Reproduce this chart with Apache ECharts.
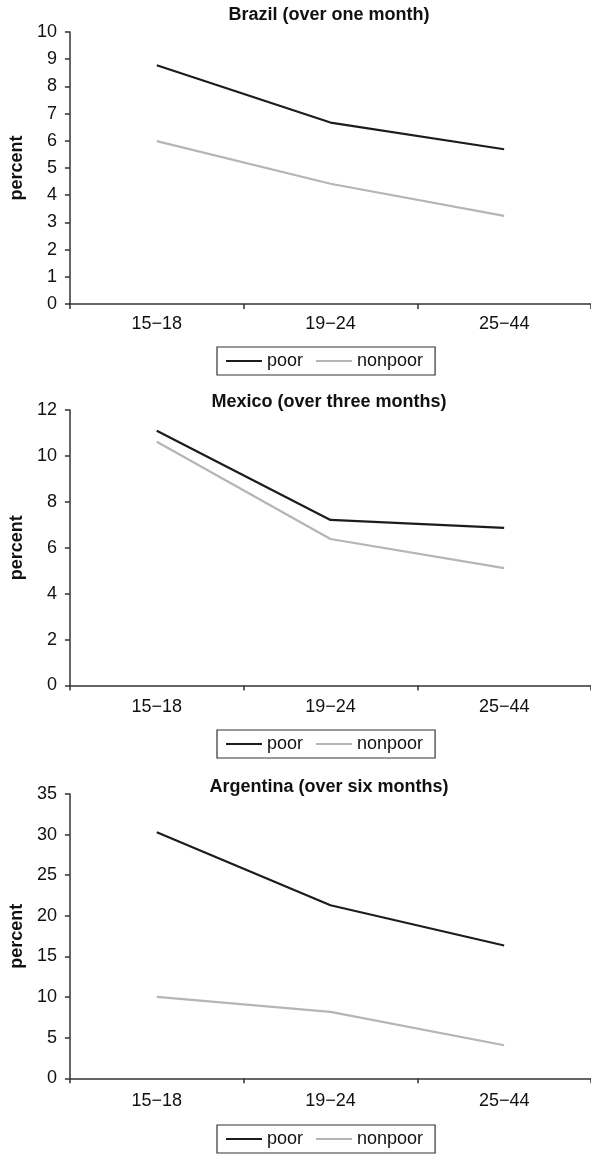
<!DOCTYPE html>
<html>
<head>
<meta charset="utf-8">
<script src="https://cdn.jsdelivr.net/npm/echarts@6/dist/echarts.min.js"></script>
<style>
html,body{margin:0;padding:0;background:#fff;}
#chart{width:591px;height:1154px;}
</style>
</head>
<body>
<div id="chart"></div>
<script>
const categories = ['15\u221218', '19\u221224', '25\u221244'];
const titles = ['Brazil (over one month)', 'Mexico (over three months)', 'Argentina (over six months)'];
const seriesNames = ['poor', 'nonpoor'];
const brazilPoor = [8.78, 6.67, 5.69];
const brazilNonpoor = [5.99, 4.42, 3.24];
const mexicoPoor = [11.1, 7.21, 6.87];
const mexicoNonpoor = [10.62, 6.38, 5.11];
const argentinaPoor = [30.3, 21.3, 16.35];
const argentinaNonpoor = [10.02, 8.18, 4.07];
const yMax = [10, 12, 35];
const yInterval = [1, 2, 5];

const FONT = '"Liberation Sans", Arial, Helvetica, sans-serif';
const DARK = '#1c1c1c';
const LIGHT = '#b5b5b5';
const AXIS = '#333333';

const panels = [
  {title: titles[0], poor: brazilPoor, nonpoor: brazilNonpoor, top: 32, height: 272, titleTop: 6, legendTop: 347, xMargin: 11},
  {title: titles[1], poor: mexicoPoor, nonpoor: mexicoNonpoor, top: 410, height: 275.5, titleTop: 393, legendTop: 730, xMargin: 13},
  {title: titles[2], poor: argentinaPoor, nonpoor: argentinaNonpoor, top: 794, height: 284.3, titleTop: 778.5, legendTop: 1125, xMargin: 14}
];

const option = {
  backgroundColor: '#ffffff',
  animation: false,
  textStyle: {fontFamily: FONT},
  title: [], grid: [], xAxis: [], yAxis: [], series: [], legend: []
};

panels.forEach((p, i) => {
  option.title.push({
    text: p.title,
    left: 329, top: p.titleTop, textAlign: 'center', padding: 0,
    textStyle: {fontFamily: FONT, fontSize: 18, fontWeight: 'bold', color: '#111'}
  });
  option.grid.push({left: 62, width: 531, top: p.top, height: p.height, containLabel: false});
  option.xAxis.push({
    type: 'category', gridIndex: i, data: categories, boundaryGap: true,
    axisLine: {show: true, lineStyle: {color: AXIS, width: 1.5}},
    axisTick: {show: true, alignWithLabel: false, length: 5, lineStyle: {color: AXIS, width: 1.5}},
    axisLabel: {fontFamily: FONT, fontSize: 18, color: '#111', margin: p.xMargin},
    splitLine: {show: false}
  });
  option.yAxis.push({
    type: 'value', gridIndex: i, min: 0, max: yMax[i], interval: yInterval[i],
    name: 'percent', nameLocation: 'middle', nameGap: 38, nameRotate: 90,
    nameTextStyle: {fontFamily: FONT, fontSize: 18, fontWeight: 'bold', color: '#111'},
    axisLine: {show: true, lineStyle: {color: AXIS, width: 1.5}},
    axisTick: {show: true, length: 5, lineStyle: {color: AXIS, width: 1.5}},
    axisLabel: {fontFamily: FONT, fontSize: 18, color: '#111', margin: 13},
    splitLine: {show: false}
  });
  option.series.push({
    name: seriesNames[0], type: 'line', xAxisIndex: i, yAxisIndex: i, data: p.poor,
    symbol: 'none', lineStyle: {color: DARK, width: 2.2}, itemStyle: {color: DARK}
  });
  option.series.push({
    name: seriesNames[1], type: 'line', xAxisIndex: i, yAxisIndex: i, data: p.nonpoor,
    symbol: 'none', lineStyle: {color: LIGHT, width: 2.2}, itemStyle: {color: LIGHT}
  });
  option.legend.push({
    data: seriesNames, left: 217, top: p.legendTop, orient: 'horizontal',
    icon: 'rect', itemWidth: 36, itemHeight: 2, itemGap: 13,
    padding: [5, 12, 5, 9], borderColor: '#333', borderWidth: 1.2,
    textStyle: {fontFamily: FONT, fontSize: 18, color: '#111'},
    selectedMode: false
  });
});

const chart = echarts.init(document.getElementById('chart'), null, {renderer: 'canvas'});
chart.setOption(option);
</script>
</body>
</html>
